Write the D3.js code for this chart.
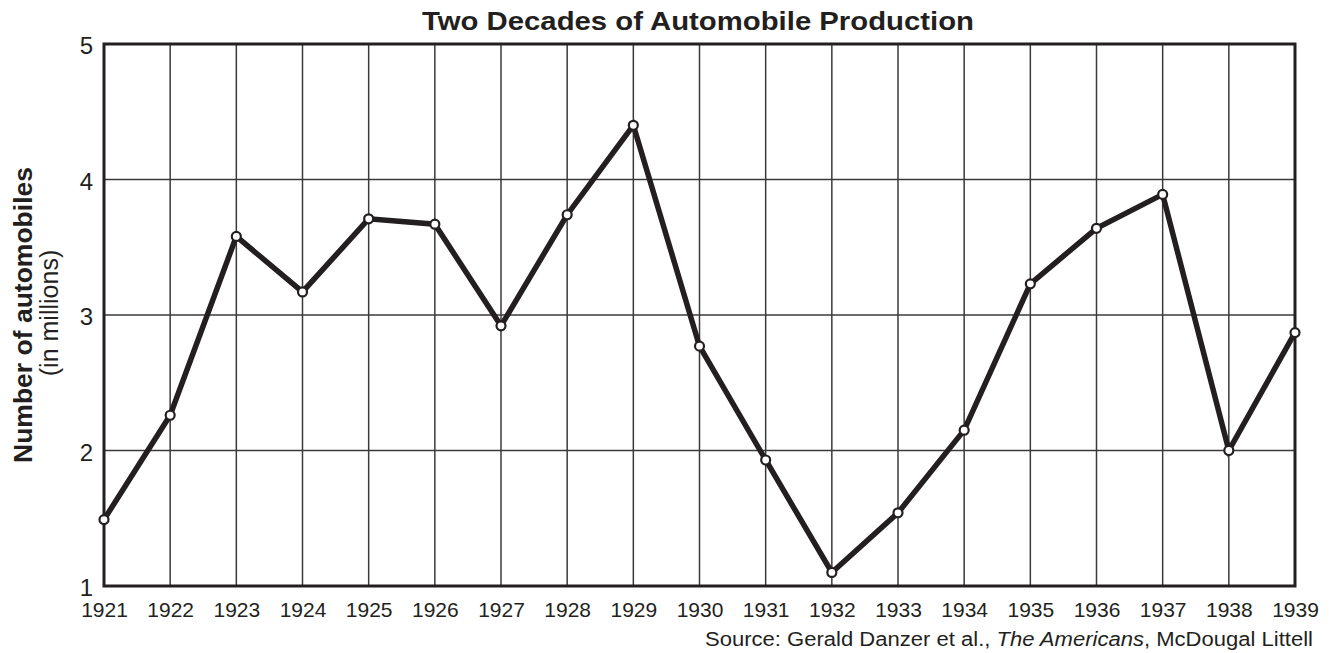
<!DOCTYPE html>
<html>
<head>
<meta charset="utf-8">
<script src="https://cdn.jsdelivr.net/npm/d3@7"></script>
<style>
  body { margin: 0; background: #fff; }
  svg { display: block; font-family: "Liberation Sans", Arial, Helvetica, sans-serif; }
</style>
</head>
<body>
<div id="chart"><svg width="1329" height="653"></svg></div>
<script>
const YEARS = [1921, 1922, 1923, 1924, 1925, 1926, 1927, 1928, 1929, 1930,
  1931, 1932, 1933, 1934, 1935, 1936, 1937, 1938, 1939];
const CARS = [1.49, 2.26, 3.58, 3.17, 3.71, 3.67, 2.92, 3.74, 4.40, 2.77,
  1.93, 1.10, 1.54, 2.15, 3.23, 3.64, 3.89, 2.00, 2.87];
const Y_TICKS = [1, 2, 3, 4, 5];

const SVG = d3.select('#chart svg');
const LEFT = 104, RIGHT = 1295, TOP = 44, BOTTOM = 586;
const INK = '#231f20';

const X_SCALE = d3.scaleLinear()
  .domain([YEARS[0], YEARS[YEARS.length - 1]])
  .range([LEFT, RIGHT]);

const Y_SCALE = d3.scaleLinear()
  .domain([1, 5])
  .range([BOTTOM, TOP]);

// grid
const GRID = SVG.append('g').attr('id', 'grid');
GRID.selectAll('line.v')
  .data(YEARS)
  .join('line')
  .attr('class', 'v')
  .attr('x1', d => X_SCALE(d)).attr('x2', d => X_SCALE(d))
  .attr('y1', TOP).attr('y2', BOTTOM)
  .style('stroke', '#3a3a3a')
  .style('stroke-width', 1.5);
GRID.selectAll('line.h')
  .data(Y_TICKS)
  .join('line')
  .attr('class', 'h')
  .attr('x1', LEFT).attr('x2', RIGHT)
  .attr('y1', d => Y_SCALE(d)).attr('y2', d => Y_SCALE(d))
  .style('stroke', '#3a3a3a')
  .style('stroke-width', 1.5);

// frame
SVG.append('rect')
  .attr('x', LEFT).attr('y', TOP)
  .attr('width', RIGHT - LEFT).attr('height', BOTTOM - TOP)
  .style('fill', 'none')
  .style('stroke', INK)
  .style('stroke-width', 3);

// axes (labels only)
const Y_AXIS = d3.axisLeft(Y_SCALE).tickValues(Y_TICKS).tickFormat(d3.format('d'))
  .tickSize(0).tickPadding(11);
const Y_AXIS_G = SVG.append('g')
  .attr('id', 'yAxis')
  .attr('transform', `translate(${LEFT},0)`);
Y_AXIS(Y_AXIS_G);
Y_AXIS_G.select('.domain').remove();
Y_AXIS_G.selectAll('text')
  .attr('dy', '0.40em')
  .style('font-size', '24px')
  .style('fill', INK)
  .style('font-family', '"Liberation Sans", Arial, sans-serif');

const X_AXIS = d3.axisBottom(X_SCALE).tickValues(YEARS).tickFormat(d3.format('d'))
  .tickSize(0).tickPadding(16);
const X_AXIS_G = SVG.append('g')
  .attr('id', 'xAxis')
  .attr('transform', `translate(0,${BOTTOM})`);
X_AXIS(X_AXIS_G);
X_AXIS_G.select('.domain').remove();
X_AXIS_G.selectAll('text')
  .style('font-size', '21px')
  .style('fill', INK)
  .style('font-family', '"Liberation Sans", Arial, sans-serif');

// line
const POINTS = YEARS.map((y, i) => ({ year: y, value: CARS[i] }));
SVG.append('path')
  .datum(POINTS)
  .attr('d', d3.line(d => X_SCALE(d.year), d => Y_SCALE(d.value)))
  .style('fill', 'none')
  .style('stroke', INK)
  .style('stroke-width', 5.5)
  .style('stroke-linejoin', 'miter');

SVG.selectAll('circle')
  .data(POINTS)
  .join('circle')
  .attr('cx', d => X_SCALE(d.year))
  .attr('cy', d => Y_SCALE(d.value))
  .attr('r', 4.5)
  .style('fill', '#fff')
  .style('stroke', INK)
  .style('stroke-width', 2.2);

// titles
SVG.append('text')
  .text('Two Decades of Automobile Production')
  .attr('x', 698).attr('y', 30)
  .attr('textLength', 552)
  .attr('lengthAdjust', 'spacingAndGlyphs')
  .style('text-anchor', 'middle')
  .style('font-size', '25px')
  .style('font-weight', 'bold')
  .style('fill', INK);

SVG.append('text')
  .text('Number of automobiles')
  .attr('transform', 'translate(32,315) rotate(-90)')
  .style('text-anchor', 'middle')
  .style('font-size', '26.5px')
  .style('font-weight', 'bold')
  .style('fill', INK);

SVG.append('text')
  .text('(in millions)')
  .attr('transform', 'translate(58,313) rotate(-90)')
  .style('text-anchor', 'middle')
  .style('font-size', '25px')
  .style('fill', INK);

const SRC = SVG.append('text')
  .attr('x', 1313).attr('y', 646)
  .attr('textLength', 608)
  .attr('lengthAdjust', 'spacingAndGlyphs')
  .style('text-anchor', 'end')
  .style('font-size', '20px')
  .style('fill', INK);
SRC.append('tspan').text('Source: Gerald Danzer et al., ');
SRC.append('tspan').text('The Americans').style('font-style', 'italic');
SRC.append('tspan').text(', McDougal Littell');
</script>
</body>
</html>
